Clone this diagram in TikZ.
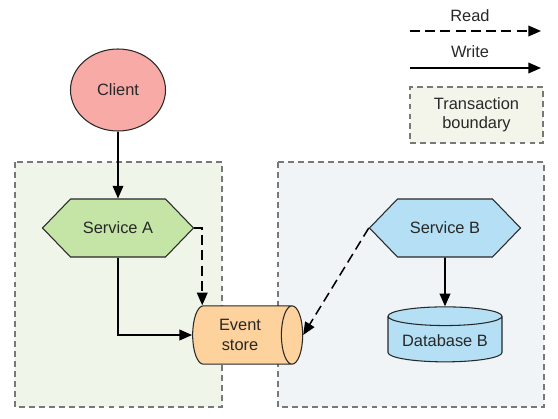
\documentclass[tikz,border=0pt]{standalone}
\usepackage{fontspec}
\setmainfont{Liberation Sans}
\usepackage{tikz}
\usetikzlibrary{arrows.meta,positioning,calc,shapes.geometric,shapes.symbols}
\definecolor{inkgray}{RGB}{40,40,40}
\definecolor{boxgray}{RGB}{120,120,120}
\definecolor{leftbg}{RGB}{240,245,234}
\definecolor{rightbg}{RGB}{240,244,247}
\definecolor{legendbg}{RGB}{243,244,234}
\definecolor{clientred}{RGB}{248,170,166}
\definecolor{svcgreen}{RGB}{196,229,166}
\definecolor{svcblue}{RGB}{180,223,244}
\definecolor{storeorange}{RGB}{253,210,156}

\begin{document}
\begin{tikzpicture}[
    x=0.03cm, y=-0.03cm,
    font=\fontsize{14}{16.5}\selectfont,
    txbound/.style={draw=boxgray, line width=1pt, dash pattern=on 5pt off 3.5pt},
    service/.style={signal, signal to=west and east, signal pointer angle=92,
        draw=inkgray, line width=0.9pt, minimum width=4.53cm,
        minimum height=1.74cm, inner sep=0pt, text=inkgray},
    write/.style={draw=black, line width=1.3pt,
        -{Triangle[length=0.38cm, width=0.32cm]}},
    read/.style={write, dash pattern=on 8.5pt off 4.5pt}
]
\useasboundingbox (0,0) rectangle (558,419);

% transaction boundaries
\draw[txbound, fill=leftbg] (15,162) rectangle (222,407);
\draw[txbound, fill=rightbg] (278,162) rectangle (544,407);

% nodes
\node[ellipse, draw=inkgray, line width=0.9pt, fill=clientred,
    minimum width=2.85cm, minimum height=2.46cm, text=inkgray] (cl) at (118,90) {Client};
\node[service, fill=svcgreen] (sa) at (118,228) {Service A};
\node[service, fill=svcblue] (sb) at (445,228) {Service B};
\node[cylinder, draw=inkgray, line width=0.9pt, fill=storeorange,
    aspect=0.6, minimum width=1.75cm, minimum height=3.3cm,
    align=center, inner sep=2pt, text=inkgray] (es) at (240,335) {Event\\store};
\node[cylinder, shape border rotate=90, draw=inkgray, line width=0.9pt,
    fill=svcblue, aspect=0.2, minimum width=3.42cm, minimum height=1.65cm,
    text=inkgray] (db) at (445,341) {Database B};

% connectors
\draw[write] (cl.south) -- (sa.north);
\draw[write] (sa.south) |- (es.west);
\draw[read] (sa.east) -- ++(8,0) coordinate (sa-r) -- (sa-r |- es.north);
\draw[read] (sb.west) -- (es.east);
\draw[write] (sb.south) -- (db.north);

% legend
\node[text=inkgray] (rd) at (470,16) {Read};
\coordinate (rd-a) at (410,31);
\coordinate (rd-b) at (541,31);
\draw[read] (rd-a) -- (rd-b);
\node[text=inkgray] (wr) at (470,52) {Write};
\coordinate (wr-a) at (410,68);
\coordinate (wr-b) at (541,68);
\draw[write] (wr-a) -- (wr-b);
\node[txbound, fill=legendbg, minimum width=3.99cm, minimum height=1.68cm,
    align=center, text=inkgray] (lg) at (476.5,115) {Transaction\\boundary};
\end{tikzpicture}
\end{document}
